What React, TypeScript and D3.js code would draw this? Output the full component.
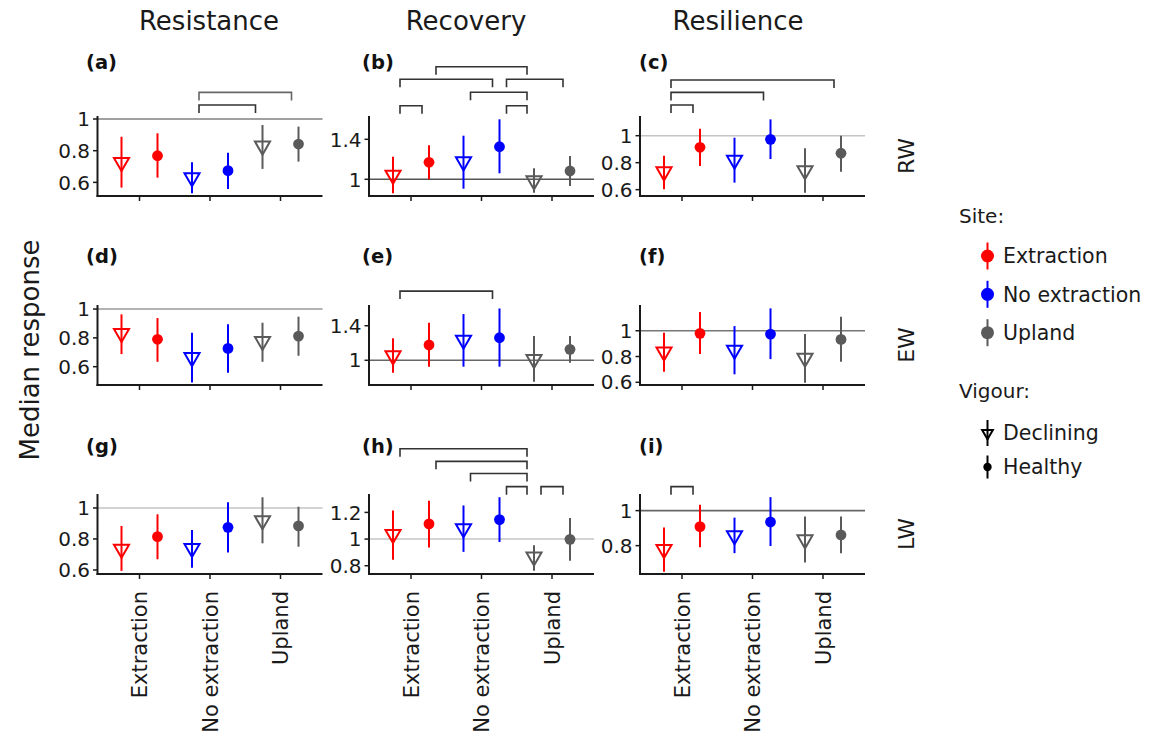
import React from 'react';
import * as d3 from 'd3';

// ---------- data ----------
const sites = ['Extraction', 'No extraction', 'Upland'];
const vigours = ['Declining', 'Healthy'];
const measures = ['Resistance', 'Recovery', 'Resilience'];
const traits = ['RW', 'EW', 'LW'];
const panelLetters = ['a', 'b', 'c', 'd', 'e', 'f', 'g', 'h', 'i'];

// order: Extraction-Declining, Extraction-Healthy, NoExt-Declining, NoExt-Healthy, Upland-Declining, Upland-Healthy
const aMedian = [0.727, 0.768, 0.63, 0.674, 0.83, 0.842];
const aLower = [0.567, 0.63, 0.531, 0.558, 0.685, 0.731];
const aUpper = [0.888, 0.91, 0.727, 0.787, 0.962, 0.952];

const bMedian = [1.043, 1.17, 1.176, 1.326, 0.986, 1.083];
const bLower = [0.86, 1.0, 0.906, 1.06, 0.866, 0.933];
const bUpper = [1.226, 1.34, 1.436, 1.6, 1.11, 1.233];

const cMedian = [0.733, 0.914, 0.82, 0.973, 0.741, 0.87];
const cLower = [0.603, 0.776, 0.652, 0.827, 0.578, 0.733];
const cUpper = [0.852, 1.052, 0.985, 1.121, 0.907, 1.0];

const dMedian = [0.831, 0.79, 0.664, 0.727, 0.776, 0.8125];
const dLower = [0.6875, 0.634, 0.49, 0.558, 0.634, 0.676];
const dUpper = [0.963, 0.9375, 0.835, 0.894, 0.905, 0.947];

const eMedian = [1.053, 1.177, 1.235, 1.261, 1.012, 1.127];
const eLower = [0.857, 0.926, 0.926, 0.926, 0.753, 0.972];
const eUpper = [1.254, 1.435, 1.535, 1.6, 1.28, 1.28];

const fMedian = [0.837, 0.98, 0.85, 0.974, 0.788, 0.933];
const fLower = [0.682, 0.82, 0.662, 0.78, 0.597, 0.76];
const fUpper = [0.984, 1.145, 1.036, 1.174, 0.974, 1.109];

const gMedian = [0.735, 0.815, 0.74, 0.875, 0.918, 0.884];
const gLower = [0.594, 0.669, 0.615, 0.712, 0.772, 0.75];
const gUpper = [0.884, 0.959, 0.858, 1.037, 1.069, 1.008];

const hMedian = [1.035, 1.114, 1.079, 1.146, 0.867, 0.998];
const hLower = [0.844, 0.936, 0.904, 0.978, 0.763, 0.837];
const hUpper = [1.215, 1.287, 1.252, 1.314, 0.953, 1.158];

const iMedian = [0.779, 0.909, 0.857, 0.935, 0.834, 0.861];
const iLower = [0.651, 0.791, 0.757, 0.798, 0.703, 0.757];
const iUpper = [0.903, 1.033, 0.96, 1.077, 0.966, 0.966];

// y axis limits and ticks
const aDomain = [0.514, 1.019]; const aTicks = [0.6, 0.8, 1];
const bDomain = [0.833, 1.633]; const bTicks = [1, 1.4];
const cDomain = [0.553, 1.146]; const cTicks = [0.6, 0.8, 1];
const dDomain = [0.473, 1.028]; const dTicks = [0.6, 0.8, 1];
const eDomain = [0.714, 1.64]; const eTicks = [1, 1.4];
const fDomain = [0.579, 1.2]; const fTicks = [0.6, 0.8, 1];
const gDomain = [0.574, 1.09]; const gTicks = [0.6, 0.8, 1];
const hDomain = [0.738, 1.338]; const hTicks = [0.8, 1, 1.2];
const iDomain = [0.638, 1.095]; const iTicks = [0.8, 1];

// significance brackets: [from group, to group, y position]
const aBrackets = [[2, 4, 1.088], [2, 5, 1.168]];
const bBrackets = [[0, 1, 1.736], [3, 4, 1.736], [2, 4, 1.87], [0, 3, 2.0], [3, 5, 2.0], [1, 4, 2.126]];
const cBrackets = [[0, 1, 1.227], [0, 3, 1.321], [0, 5, 1.413]];
const dBrackets: number[][] = [];
const eBrackets = [[0, 3, 1.801]];
const fBrackets: number[][] = [];
const gBrackets: number[][] = [];
const hBrackets = [[3, 4, 1.393], [4, 5, 1.393], [2, 4, 1.492], [1, 4, 1.583], [0, 4, 1.677]];
const iBrackets = [[0, 1, 1.137]];

const panels = [
  { median: aMedian, lower: aLower, upper: aUpper, domain: aDomain, ticks: aTicks, brackets: aBrackets },
  { median: bMedian, lower: bLower, upper: bUpper, domain: bDomain, ticks: bTicks, brackets: bBrackets },
  { median: cMedian, lower: cLower, upper: cUpper, domain: cDomain, ticks: cTicks, brackets: cBrackets },
  { median: dMedian, lower: dLower, upper: dUpper, domain: dDomain, ticks: dTicks, brackets: dBrackets },
  { median: eMedian, lower: eLower, upper: eUpper, domain: eDomain, ticks: eTicks, brackets: eBrackets },
  { median: fMedian, lower: fLower, upper: fUpper, domain: fDomain, ticks: fTicks, brackets: fBrackets },
  { median: gMedian, lower: gLower, upper: gUpper, domain: gDomain, ticks: gTicks, brackets: gBrackets },
  { median: hMedian, lower: hLower, upper: hUpper, domain: hDomain, ticks: hTicks, brackets: hBrackets },
  { median: iMedian, lower: iLower, upper: iUpper, domain: iDomain, ticks: iTicks, brackets: iBrackets },
];

// ---------- layout / style ----------
const W = 1165;
const H = 735;
const FONT = "'DejaVu Sans', Verdana, sans-serif";
const colLeft = [97.5, 369, 640];
const rowTop = [116, 305, 494];
const panelW = 225;
const panelH = 80;
const siteColors = ['#ff0000', '#0000ff', '#5a5a5a'];
const refLineColors = ['#808080', '#555555', '#c4c4c4', '#999999', '#666666', '#777777', '#c4c4c4', '#c4c4c4', '#666666'];
const bracketColors = [['#333333', '#666666'], ['#333'], ['#333'], ['#333'], ['#333'], ['#333'], ['#333'], ['#333'], ['#333']];
const titleX = [209, 466, 738];
const letterX = [86, 362, 639];
const letterBase = [69, 263, 453];
const TRI_R = 8.7;
const CIRC_R = 5.4;

const triPath = (r: number) => {
  const xc = 0.866 * r;
  return `M0,${r}L${xc},${-r / 2}L${-xc},${-r / 2}Z`;
};

const fmt = (v: number) => String(+v.toFixed(2));

function Panel({ idx }: { idx: number }) {
  const p = panels[idx];
  const r = Math.floor(idx / 3);
  const c = idx % 3;
  const left = colLeft[c];
  const top = rowTop[r];
  const bottom = top + panelH;
  const x = d3.scalePoint<string>().domain(sites).range([left + 42, left + 183]);
  const dx = d3.scalePoint<string>().domain(vigours).range([-18, 18]);
  const y = d3.scaleLinear().domain(p.domain).range([bottom, top]);
  const gx = (i: number) => (x(sites[Math.floor(i / 2)]) as number) + (dx(vigours[i % 2]) as number);

  return (
    <g>
      {/* reference line */}
      <line x1={left} x2={left + panelW} y1={y(1)} y2={y(1)} stroke={refLineColors[idx]} strokeWidth={1.6} />
      {/* brackets */}
      {p.brackets.map((b, k) => {
        const x1 = gx(b[0]) + 7;
        const x2 = gx(b[1]) - 7;
        const yy = y(b[2]);
        const col = bracketColors[idx][k] || bracketColors[idx][0];
        return (
          <path key={'b' + k} d={`M${x1},${yy + 8}V${yy}H${x2}V${yy + 8}`} fill="none" stroke={col} strokeWidth={1.6} />
        );
      })}
      {/* error bars and markers */}
      {p.median.map((m, i) => {
        const col = siteColors[Math.floor(i / 2)];
        const xx = gx(i);
        return (
          <g key={'p' + i}>
            <line x1={xx} x2={xx} y1={y(p.lower[i])} y2={y(p.upper[i])} stroke={col} strokeWidth={2} />
            {i % 2 === 0 ? (
              <path d={triPath(TRI_R)} transform={`translate(${xx},${y(m)})`} fill="none" stroke={col} strokeWidth={2} />
            ) : (
              <circle cx={xx} cy={y(m)} r={CIRC_R} fill={col} />
            )}
          </g>
        );
      })}
      {/* axes */}
      <line x1={left} x2={left} y1={top} y2={bottom + 1} stroke="#1a1a1a" strokeWidth={2} />
      <line x1={left - 1} x2={left + panelW} y1={bottom} y2={bottom} stroke="#1a1a1a" strokeWidth={2} />
      {p.ticks.map((t) => (
        <g key={'t' + t}>
          <line x1={left - 4.5} x2={left} y1={y(t)} y2={y(t)} stroke="#1a1a1a" strokeWidth={1.5} />
          <text x={left - 7.5} y={y(t)} dy="0.36em" textAnchor="end" fontSize={20} fill="#1a1a1a" fontFamily={FONT}>
            {fmt(t)}
          </text>
        </g>
      ))}
      {sites.map((s) => (
        <g key={'x' + s}>
          <line x1={x(s)} x2={x(s)} y1={bottom} y2={bottom + 5} stroke="#1a1a1a" strokeWidth={1.5} />
          {r === 2 && (
            <text
              transform={`translate(${(x(s) as number)},${bottom + 17}) rotate(-90)`}
              dy="0.36em"
              textAnchor="end"
              fontSize={21}
              fill="#1a1a1a"
              fontFamily={FONT}
            >
              {s}
            </text>
          )}
        </g>
      ))}
      {/* panel letter */}
      <text x={letterX[c]} y={letterBase[r]} fontSize={19.5} fontWeight="bold" fill="#111" fontFamily={FONT}>
        ({panelLetters[idx]})
      </text>
    </g>
  );
}

function Legend() {
  const lx = 987.5;
  const tx = 1003;
  const siteY = [256, 294.3, 332.7];
  const vigY = [433, 467];
  return (
    <g fontFamily={FONT} fill="#1a1a1a">
      <text x={959} y={223} fontSize={20}>Site:</text>
      {sites.map((s, i) => (
        <g key={s}>
          <line x1={lx} x2={lx} y1={siteY[i] - 13.5} y2={siteY[i] + 13.5} stroke={siteColors[i]} strokeWidth={2} />
          <circle cx={lx} cy={siteY[i]} r={6.5} fill={siteColors[i]} />
          <text x={tx} y={siteY[i]} dy="0.36em" fontSize={20.5}>{s}</text>
        </g>
      ))}
      <text x={959} y={398} fontSize={20}>Vigour:</text>
      <line x1={lx} x2={lx} y1={vigY[0] - 13} y2={vigY[0] + 13} stroke="#000" strokeWidth={2} />
      <path d={triPath(6.2)} transform={`translate(${lx},${vigY[0]})`} fill="none" stroke="#000" strokeWidth={2} />
      <text x={tx} y={vigY[0]} dy="0.36em" fontSize={20.5}>{vigours[0]}</text>
      <line x1={lx} x2={lx} y1={vigY[1] - 11.5} y2={vigY[1] + 11.5} stroke="#000" strokeWidth={2} />
      <circle cx={lx} cy={vigY[1]} r={4.2} fill="#000" />
      <text x={tx} y={vigY[1]} dy="0.36em" fontSize={20.5}>{vigours[1]}</text>
    </g>
  );
}

export default function App() {
  return (
    <svg
      width={W}
      height={H}
      viewBox={`0 0 ${W} ${H}`}
      style={{ position: 'absolute', left: 0, top: 0, background: '#fff' }}
    >
      <rect x={0} y={0} width={W} height={H} fill="#fff" />
      {measures.map((m, i) => (
        <text key={m} x={titleX[i]} y={30} textAnchor="middle" fontSize={26} fill="#1a1a1a" fontFamily={FONT}>
          {m}
        </text>
      ))}
      <text
        transform={`translate(30,350) rotate(-90)`}
        dy="0.36em"
        textAnchor="middle"
        fontSize={26}
        fill="#1a1a1a"
        fontFamily={FONT}
      >
        Median response
      </text>
      {traits.map((t, i) => (
        <text
          key={t}
          transform={`translate(906,${rowTop[i] + panelH / 2}) rotate(-90)`}
          dy="0.36em"
          textAnchor="middle"
          fontSize={22}
          fill="#1a1a1a"
          fontFamily={FONT}
        >
          {t}
        </text>
      ))}
      {panels.map((_, i) => (
        <Panel key={i} idx={i} />
      ))}
      <Legend />
    </svg>
  );
}
